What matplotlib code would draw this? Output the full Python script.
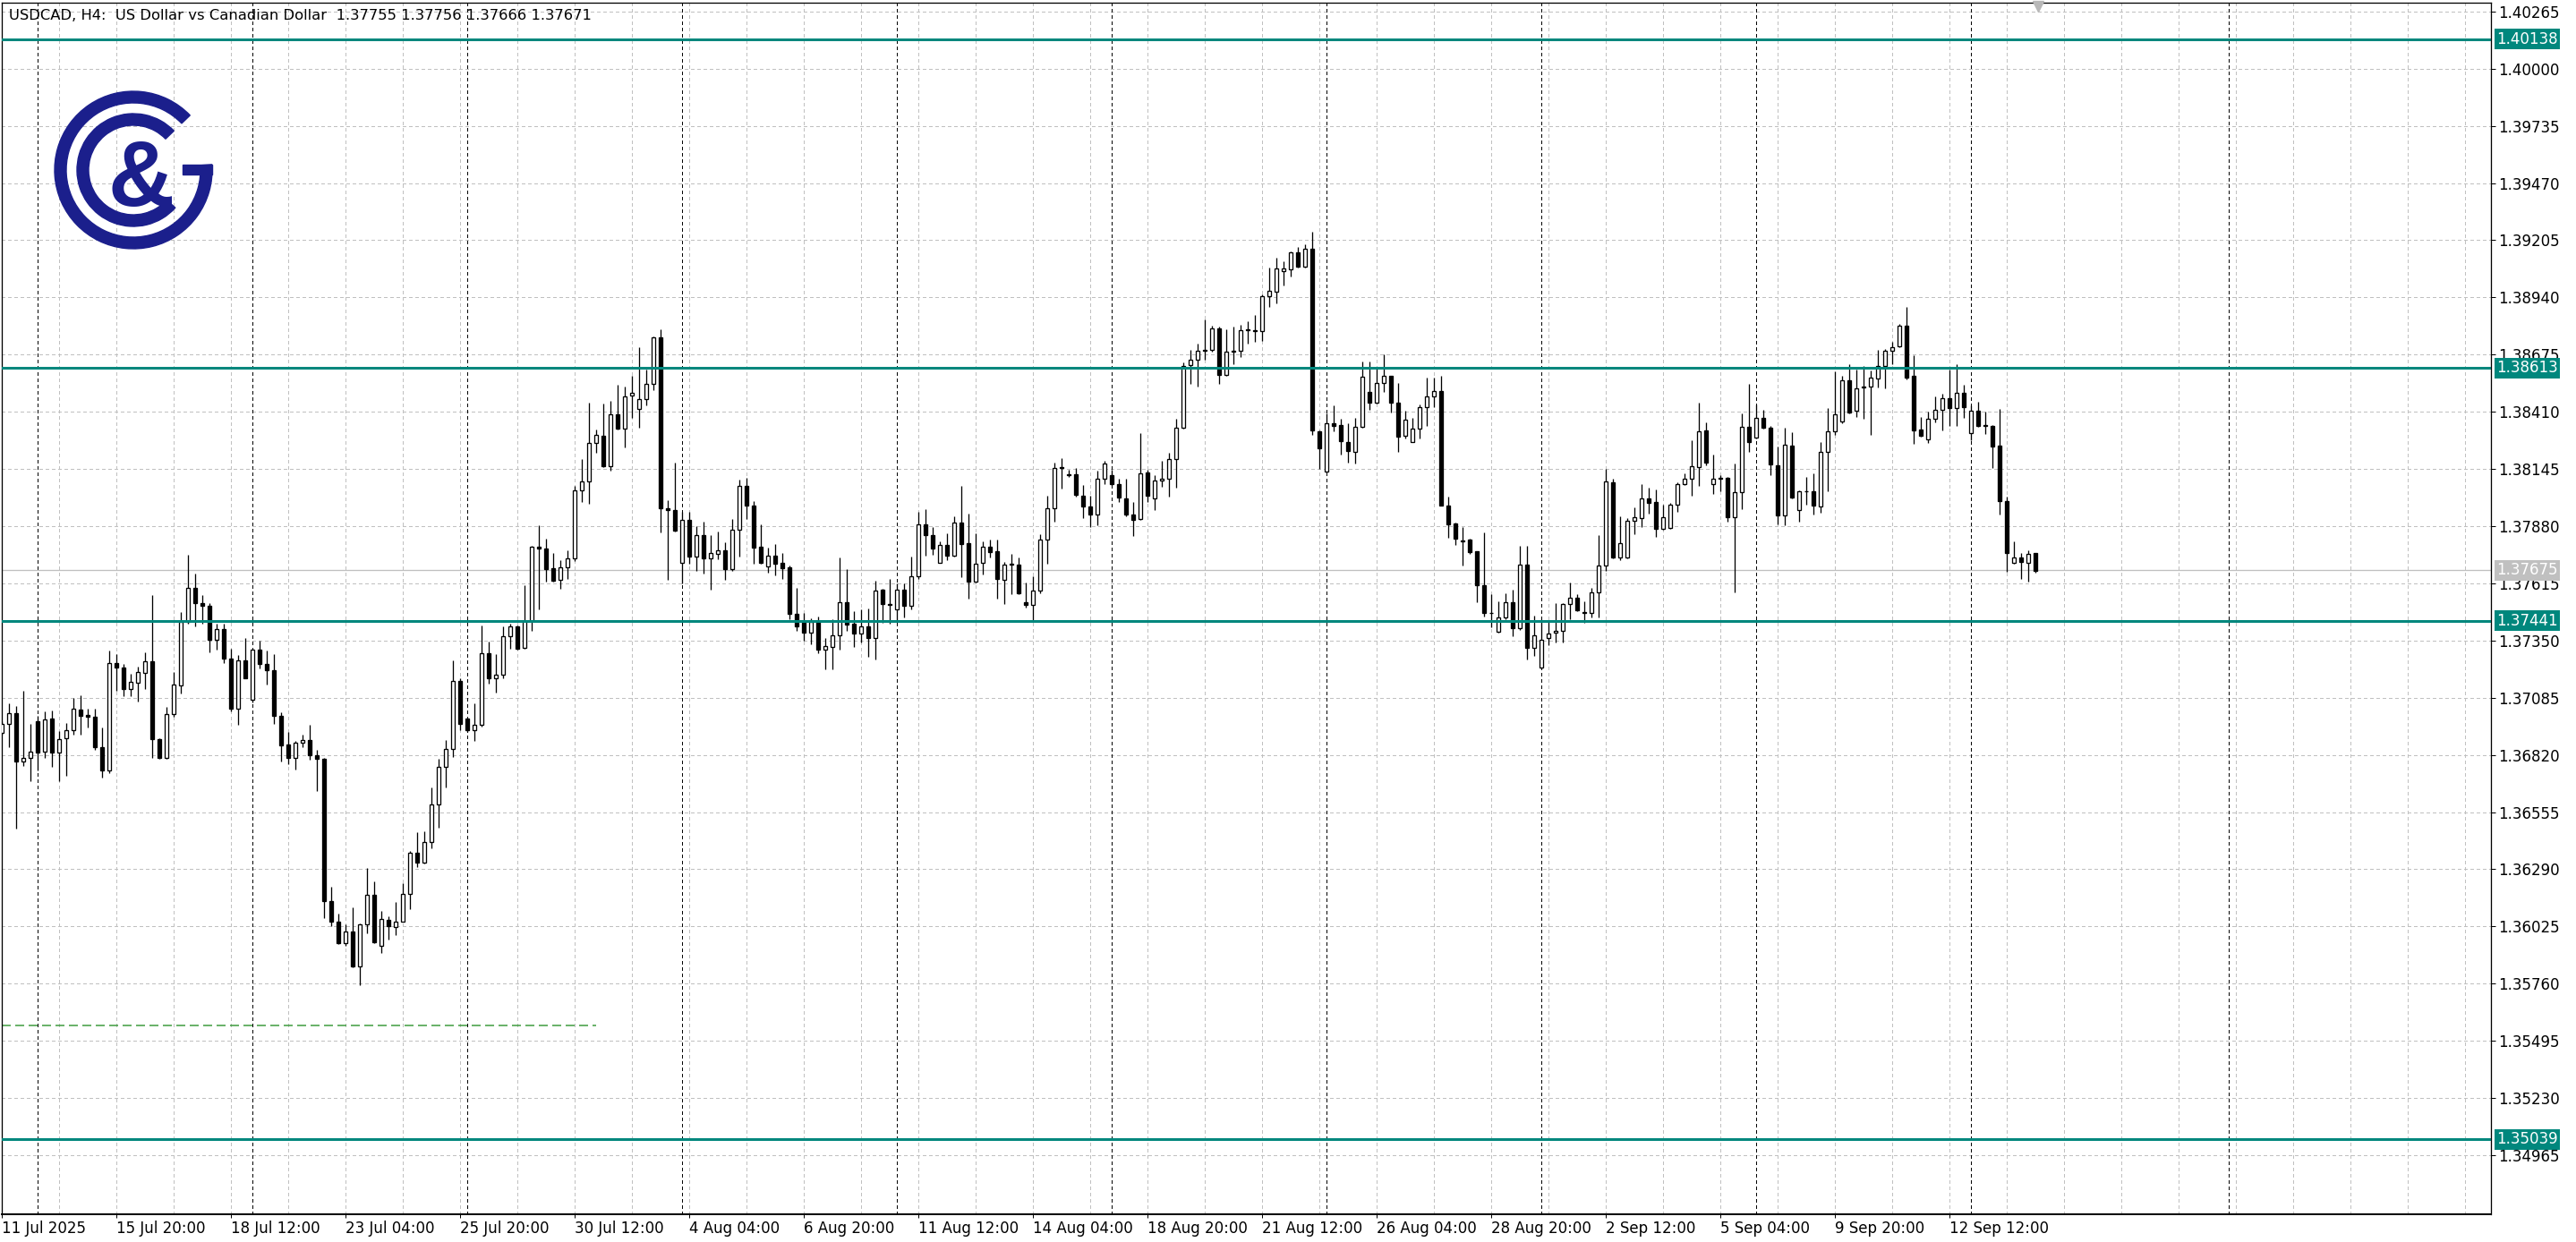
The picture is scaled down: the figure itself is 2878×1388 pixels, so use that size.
import matplotlib
matplotlib.use("Agg")
import matplotlib.pyplot as plt
from matplotlib.patches import Wedge, Rectangle
import numpy as np

plt.rcParams["lines.scale_dashes"] = False
plt.rcParams["font.family"] = ["DejaVu Sans"]

# USDCAD H4 candles, 11 Jul 2025 04:00 .. 16 Sep 2025 12:00
opens = [
    1.36923, 1.36962, 1.37012, 1.36788, 1.36808, 1.36978, 1.36836, 1.36987, 1.36829, 1.36898,
    1.36933, 1.37030, 1.37005, 1.36995, 1.36854, 1.36746, 1.37247, 1.37223, 1.37124, 1.37154,
    1.37198, 1.37252, 1.36894, 1.36804, 1.37009, 1.37140, 1.37435, 1.37592, 1.37524, 1.37509,
    1.37352, 1.37405, 1.37265, 1.37036, 1.37258, 1.37074, 1.37306, 1.37240, 1.37213, 1.36999,
    1.36867, 1.36808, 1.36875, 1.36887, 1.36820, 1.36802, 1.36141, 1.36046, 1.35949, 1.36000,
    1.35838, 1.36035, 1.36170, 1.35936, 1.36057, 1.36024, 1.36048, 1.36176, 1.36365, 1.36319,
    1.36416, 1.36591, 1.36763, 1.36849, 1.37163, 1.36987, 1.36933, 1.36958, 1.37292, 1.37176,
    1.37192, 1.37372, 1.37416, 1.37317, 1.37441, 1.37784, 1.37777, 1.37687, 1.37630, 1.37690,
    1.37730, 1.38045, 1.38087, 1.38266, 1.38298, 1.38156, 1.38398, 1.38331, 1.38485, 1.38425,
    1.38468, 1.38540, 1.38754, 1.37962, 1.37955, 1.37711, 1.37908, 1.37738, 1.37838, 1.37730,
    1.37751, 1.37770, 1.37680, 1.37864, 1.38067, 1.37977, 1.37785, 1.37694, 1.37744, 1.37708,
    1.37691, 1.37474, 1.37439, 1.37387, 1.37436, 1.37309, 1.37321, 1.37375, 1.37528, 1.37426,
    1.37383, 1.37414, 1.37363, 1.37584, 1.37519, 1.37495, 1.37586, 1.37512, 1.37646, 1.37889,
    1.37839, 1.37712, 1.37795, 1.37744, 1.37895, 1.37803, 1.37622, 1.37709, 1.37785, 1.37763,
    1.37633, 1.37705, 1.37702, 1.37528, 1.37516, 1.37582, 1.37819, 1.37964, 1.38154, 1.38121,
    1.38121, 1.38022, 1.37971, 1.37935, 1.38101, 1.38116, 1.38077, 1.38008, 1.37932, 1.37914,
    1.38128, 1.38008, 1.38091, 1.38098, 1.38191, 1.38336, 1.38626, 1.38651, 1.38692, 1.38699,
    1.38796, 1.38579, 1.38688, 1.38691, 1.38792, 1.38789, 1.38785, 1.38945, 1.38966, 1.39063,
    1.39071, 1.39148, 1.39082, 1.39165, 1.38319, 1.38133, 1.38357, 1.38350, 1.38269, 1.38223,
    1.38340, 1.38502, 1.38452, 1.38543, 1.38575, 1.38453, 1.38298, 1.38271, 1.38333, 1.38433,
    1.38480, 1.38505, 1.37977, 1.37893, 1.37814, 1.37817, 1.37762, 1.37606, 1.37478, 1.37390,
    1.37459, 1.37527, 1.37407, 1.37701, 1.37314, 1.37223, 1.37361, 1.37386, 1.37395, 1.37520,
    1.37547, 1.37483, 1.37478, 1.37575, 1.37697, 1.38084, 1.37734, 1.37734, 1.37904, 1.37918,
    1.38008, 1.37991, 1.37867, 1.37872, 1.37980, 1.38074, 1.38100, 1.38153, 1.38323, 1.38074,
    1.38102, 1.38102, 1.37921, 1.38039, 1.38339, 1.38291, 1.38381, 1.38335, 1.38162, 1.37929,
    1.38255, 1.37953, 1.38040, 1.38043, 1.37971, 1.38224, 1.38320, 1.38365, 1.38555, 1.38416,
    1.38523, 1.38527, 1.38566, 1.38621, 1.38694, 1.38714, 1.38807, 1.38575, 1.38329, 1.38282,
    1.38379, 1.38421, 1.38472, 1.38427, 1.38497, 1.38313, 1.38416, 1.38345, 1.38345, 1.38252,
    1.37996, 1.37709, 1.37736, 1.37712, 1.37755,
]
highs = [
    1.36974, 1.37057, 1.37048, 1.37119, 1.36963, 1.37002, 1.37020, 1.37025, 1.36929, 1.36967,
    1.37085, 1.37095, 1.37036, 1.37034, 1.36947, 1.37302, 1.37288, 1.37240, 1.37195, 1.37230,
    1.37295, 1.37562, 1.36898, 1.37041, 1.37205, 1.37481, 1.37747, 1.37661, 1.37559, 1.37523,
    1.37429, 1.37430, 1.37310, 1.37281, 1.37361, 1.37313, 1.37350, 1.37302, 1.37289, 1.37016,
    1.36926, 1.36884, 1.36912, 1.36959, 1.36843, 1.36805, 1.36207, 1.36083, 1.36035, 1.36113,
    1.36038, 1.36294, 1.36235, 1.36096, 1.36074, 1.36140, 1.36227, 1.36373, 1.36460, 1.36467,
    1.36671, 1.36802, 1.36889, 1.37256, 1.37173, 1.36994, 1.37060, 1.37420, 1.37345, 1.37285,
    1.37416, 1.37427, 1.37420, 1.37607, 1.37787, 1.37883, 1.37821, 1.37755, 1.37724, 1.37769,
    1.38067, 1.38192, 1.38454, 1.38328, 1.38447, 1.38461, 1.38536, 1.38526, 1.38577, 1.38709,
    1.38606, 1.38758, 1.38791, 1.38001, 1.38174, 1.37946, 1.37946, 1.37879, 1.37900, 1.37837,
    1.37857, 1.37806, 1.37915, 1.38096, 1.38106, 1.37998, 1.37889, 1.37781, 1.37798, 1.37754,
    1.37698, 1.37592, 1.37477, 1.37452, 1.37463, 1.37363, 1.37450, 1.37736, 1.37680, 1.37488,
    1.37494, 1.37497, 1.37629, 1.37588, 1.37636, 1.37615, 1.37613, 1.37740, 1.37947, 1.37958,
    1.37874, 1.37809, 1.37848, 1.37926, 1.38065, 1.37939, 1.37846, 1.37809, 1.37819, 1.37819,
    1.37716, 1.37751, 1.37736, 1.37617, 1.37646, 1.37841, 1.38019, 1.38175, 1.38196, 1.38142,
    1.38151, 1.38070, 1.38022, 1.38137, 1.38184, 1.38142, 1.38101, 1.38101, 1.37990, 1.38312,
    1.38142, 1.38116, 1.38184, 1.38222, 1.38377, 1.38637, 1.38695, 1.38727, 1.38837, 1.38810,
    1.38803, 1.38792, 1.38803, 1.38814, 1.38831, 1.38858, 1.38955, 1.39077, 1.39125, 1.39107,
    1.39155, 1.39173, 1.39187, 1.39245, 1.38322, 1.38402, 1.38441, 1.38377, 1.38358, 1.38381,
    1.38641, 1.38641, 1.38609, 1.38676, 1.38575, 1.38543, 1.38416, 1.38381, 1.38444, 1.38568,
    1.38567, 1.38577, 1.38015, 1.37897, 1.37876, 1.37824, 1.37762, 1.37849, 1.37565, 1.37531,
    1.37570, 1.37586, 1.37789, 1.37789, 1.37465, 1.37445, 1.37445, 1.37524, 1.37524, 1.37618,
    1.37565, 1.37531, 1.37593, 1.37838, 1.38146, 1.38098, 1.37925, 1.37918, 1.37966, 1.38074,
    1.38060, 1.38049, 1.37980, 1.37987, 1.38084, 1.38125, 1.38277, 1.38453, 1.38363, 1.38211,
    1.38118, 1.38107, 1.38169, 1.38402, 1.38540, 1.38443, 1.38418, 1.38346, 1.38250, 1.38337,
    1.38314, 1.38047, 1.38110, 1.38126, 1.38268, 1.38427, 1.38596, 1.38575, 1.38632, 1.38604,
    1.38621, 1.38600, 1.38696, 1.38700, 1.38734, 1.38817, 1.38897, 1.38673, 1.38386, 1.38411,
    1.38483, 1.38492, 1.38604, 1.38632, 1.38534, 1.38441, 1.38455, 1.38411, 1.38349, 1.38423,
    1.38016, 1.37808, 1.37757, 1.37767, 1.37756,
]
lows = [
    1.36915, 1.36857, 1.36477, 1.36767, 1.36698, 1.36746, 1.36804, 1.36763, 1.36698, 1.36721,
    1.36912, 1.36912, 1.36947, 1.36843, 1.36716, 1.36737, 1.37119, 1.37092, 1.37092, 1.37067,
    1.37126, 1.36804, 1.36801, 1.36801, 1.36998, 1.37103, 1.37429, 1.37417, 1.37429, 1.37296,
    1.37309, 1.37247, 1.37023, 1.36960, 1.37174, 1.37064, 1.37220, 1.37147, 1.36965, 1.36790,
    1.36777, 1.36753, 1.36854, 1.36799, 1.36654, 1.36062, 1.36028, 1.35945, 1.35934, 1.35834,
    1.35754, 1.35993, 1.35948, 1.35900, 1.35965, 1.35984, 1.36045, 1.36104, 1.36300, 1.36315,
    1.36387, 1.36482, 1.36671, 1.36809, 1.36933, 1.36926, 1.36886, 1.36950, 1.37151, 1.37108,
    1.37177, 1.37310, 1.37307, 1.37313, 1.37393, 1.37496, 1.37621, 1.37621, 1.37589, 1.37635,
    1.37718, 1.37994, 1.37983, 1.38219, 1.38153, 1.38136, 1.38328, 1.38243, 1.38381, 1.38335,
    1.38440, 1.38510, 1.37853, 1.37630, 1.37856, 1.37614, 1.37704, 1.37673, 1.37662, 1.37584,
    1.37726, 1.37632, 1.37673, 1.37737, 1.37913, 1.37705, 1.37705, 1.37664, 1.37650, 1.37636,
    1.37450, 1.37394, 1.37350, 1.37332, 1.37291, 1.37217, 1.37217, 1.37307, 1.37394, 1.37321,
    1.37342, 1.37273, 1.37263, 1.37433, 1.37429, 1.37436, 1.37455, 1.37495, 1.37636, 1.37743,
    1.37747, 1.37709, 1.37722, 1.37740, 1.37643, 1.37544, 1.37620, 1.37657, 1.37736, 1.37544,
    1.37519, 1.37564, 1.37563, 1.37502, 1.37441, 1.37570, 1.37705, 1.37899, 1.38053, 1.38109,
    1.38018, 1.37916, 1.37877, 1.37884, 1.38077, 1.38070, 1.37990, 1.37925, 1.37835, 1.37911,
    1.37994, 1.37953, 1.38064, 1.38015, 1.38057, 1.38330, 1.38538, 1.38529, 1.38651, 1.38690,
    1.38538, 1.38575, 1.38630, 1.38662, 1.38727, 1.38734, 1.38737, 1.38897, 1.38911, 1.38994,
    1.39038, 1.39079, 1.39079, 1.38303, 1.38144, 1.38130, 1.38319, 1.38211, 1.38174, 1.38170,
    1.38336, 1.38419, 1.38449, 1.38503, 1.38405, 1.38225, 1.38285, 1.38268, 1.38285, 1.38344,
    1.38432, 1.37976, 1.37828, 1.37793, 1.37697, 1.37752, 1.37527, 1.37462, 1.37413, 1.37387,
    1.37448, 1.37372, 1.37400, 1.37264, 1.37278, 1.37217, 1.37328, 1.37340, 1.37340, 1.37448,
    1.37487, 1.37431, 1.37459, 1.37455, 1.37672, 1.37731, 1.37722, 1.37731, 1.37842, 1.37876,
    1.37939, 1.37832, 1.37863, 1.37869, 1.37945, 1.38070, 1.38021, 1.38066, 1.38160, 1.38031,
    1.38042, 1.37901, 1.37572, 1.37959, 1.38226, 1.38288, 1.38332, 1.38118, 1.37887, 1.37883,
    1.38010, 1.37902, 1.37978, 1.37934, 1.37944, 1.38043, 1.38303, 1.38356, 1.38404, 1.38386,
    1.38376, 1.38303, 1.38521, 1.38517, 1.38632, 1.38711, 1.38559, 1.38262, 1.38293, 1.38266,
    1.38362, 1.38324, 1.38345, 1.38345, 1.38382, 1.38278, 1.38342, 1.38307, 1.38151, 1.37934,
    1.37667, 1.37706, 1.37636, 1.37623, 1.37666,
]
closes = [
    1.36965, 1.37012, 1.36788, 1.36808, 1.36837, 1.36832, 1.36984, 1.36829, 1.36894, 1.36933,
    1.37032, 1.37002, 1.36995, 1.36857, 1.36746, 1.37247, 1.37223, 1.37126, 1.37157, 1.37202,
    1.37252, 1.36894, 1.36804, 1.37009, 1.37144, 1.37435, 1.37592, 1.37524, 1.37513, 1.37354,
    1.37405, 1.37265, 1.37036, 1.37258, 1.37177, 1.37306, 1.37240, 1.37213, 1.36999, 1.36862,
    1.36808, 1.36875, 1.36887, 1.36820, 1.36802, 1.36141, 1.36048, 1.35949, 1.36000, 1.35838,
    1.36035, 1.36170, 1.35951, 1.36060, 1.36028, 1.36048, 1.36176, 1.36365, 1.36319, 1.36416,
    1.36591, 1.36763, 1.36849, 1.37163, 1.36962, 1.36933, 1.36958, 1.37292, 1.37176, 1.37192,
    1.37372, 1.37416, 1.37313, 1.37441, 1.37784, 1.37777, 1.37683, 1.37625, 1.37690, 1.37730,
    1.38045, 1.38087, 1.38266, 1.38304, 1.38156, 1.38398, 1.38331, 1.38480, 1.38498, 1.38468,
    1.38540, 1.38754, 1.37962, 1.37955, 1.37858, 1.37908, 1.37738, 1.37838, 1.37731, 1.37754,
    1.37770, 1.37680, 1.37864, 1.38067, 1.37975, 1.37780, 1.37712, 1.37744, 1.37705, 1.37685,
    1.37473, 1.37415, 1.37387, 1.37436, 1.37307, 1.37325, 1.37375, 1.37528, 1.37425, 1.37383,
    1.37414, 1.37363, 1.37581, 1.37519, 1.37516, 1.37586, 1.37512, 1.37646, 1.37889, 1.37839,
    1.37777, 1.37795, 1.37744, 1.37895, 1.37798, 1.37622, 1.37707, 1.37785, 1.37761, 1.37636,
    1.37702, 1.37702, 1.37570, 1.37516, 1.37582, 1.37819, 1.37964, 1.38150, 1.38150, 1.38117,
    1.38026, 1.37971, 1.37932, 1.38101, 1.38170, 1.38075, 1.38012, 1.37932, 1.37911, 1.38123,
    1.38022, 1.38091, 1.38098, 1.38191, 1.38336, 1.38623, 1.38651, 1.38692, 1.38696, 1.38796,
    1.38579, 1.38688, 1.38691, 1.38789, 1.38789, 1.38785, 1.38945, 1.38971, 1.39075, 1.39075,
    1.39148, 1.39082, 1.39165, 1.38322, 1.38240, 1.38357, 1.38344, 1.38274, 1.38227, 1.38340,
    1.38572, 1.38452, 1.38543, 1.38575, 1.38453, 1.38294, 1.38374, 1.38333, 1.38430, 1.38481,
    1.38505, 1.37977, 1.37887, 1.37821, 1.37811, 1.37758, 1.37606, 1.37476, 1.37476, 1.37459,
    1.37527, 1.37407, 1.37701, 1.37314, 1.37376, 1.37355, 1.37382, 1.37393, 1.37520, 1.37547,
    1.37489, 1.37478, 1.37572, 1.37697, 1.38086, 1.37734, 1.37800, 1.37904, 1.37921, 1.38008,
    1.37987, 1.37867, 1.37921, 1.37980, 1.38074, 1.38100, 1.38156, 1.38319, 1.38174, 1.38100,
    1.38098, 1.37921, 1.38039, 1.38339, 1.38270, 1.38381, 1.38337, 1.38167, 1.37929, 1.38256,
    1.38013, 1.38040, 1.38043, 1.37976, 1.38224, 1.38320, 1.38400, 1.38556, 1.38407, 1.38520,
    1.38527, 1.38570, 1.38624, 1.38694, 1.38711, 1.38807, 1.38568, 1.38324, 1.38299, 1.38379,
    1.38421, 1.38473, 1.38427, 1.38497, 1.38430, 1.38416, 1.38345, 1.38349, 1.38248, 1.37996,
    1.37757, 1.37736, 1.37716, 1.37753, 1.37671,
]

time_labels = ["11 Jul 2025", "15 Jul 20:00", "18 Jul 12:00", "23 Jul 04:00",
               "25 Jul 20:00", "30 Jul 12:00", "4 Aug 04:00", "6 Aug 20:00",
               "11 Aug 12:00", "14 Aug 04:00", "18 Aug 20:00", "21 Aug 12:00",
               "26 Aug 04:00", "28 Aug 20:00", "2 Sep 12:00", "5 Sep 04:00",
               "9 Sep 20:00", "12 Sep 12:00"]
price_ticks = [1.40265, 1.40000, 1.39735, 1.39470, 1.39205, 1.38940, 1.38675,
               1.38410, 1.38145, 1.37880, 1.37615, 1.37350, 1.37085, 1.36820,
               1.36555, 1.36290, 1.36025, 1.35760, 1.35495, 1.35230, 1.34965]
level_prices = [1.40138, 1.38613, 1.37441, 1.35039]
bid_price = 1.37675
green_price = 1.35568
green_end = 83
week_starts = [5, 35, 65, 95, 125, 155, 185, 215, 245, 275, 311]
title = "USDCAD, H4:  US Dollar vs Canadian Dollar  1.37755 1.37756 1.37666 1.37671"

W, H, DPI = 2878, 1388, 100
PT = 72 / DPI          # one pixel expressed in points
TEAL = "#00877D"
GRID = "#C0C0C0"
NAVY = "#1B1F8C"

fig = plt.figure(figsize=(W / DPI, H / DPI), dpi=DPI)
left_px, right_px, top_px, bottom_px = 1.7, 2783, 3, 1357
ax = fig.add_axes([left_px / W, 1 - bottom_px / H,
                   (right_px - left_px) / W, (bottom_px - top_px) / H])
ax.set_xlim(-0.04, 347.6)
ax.set_ylim(1.34691, 1.40306)

# grid, week separators
for gx in range(0, 348, 8):
    ax.axvline(gx, color=GRID, lw=PT, dashes=(3 * PT, 3 * PT), antialiased=False, zorder=0.5)
for p in price_ticks:
    ax.axhline(p, color=GRID, lw=PT, dashes=(3 * PT, 3 * PT), antialiased=False, zorder=0.5)
for s in week_starts:
    ax.axvline(s, color="black", lw=PT, dashes=(4 * PT, 3 * PT), antialiased=False, zorder=0.6)

ax.axhline(bid_price, color=GRID, lw=1.3 * PT, zorder=1)
ax.plot([-0.04, green_end], [green_price, green_price], color="#3A9A3A",
        lw=1.5 * PT, dashes=(10 * PT, 5 * PT), zorder=2)

# candles
o = np.array(opens)
h = np.array(highs)
l = np.array(lows)
c = np.array(closes)
x = np.arange(len(c))
up = c >= o
ax.vlines(x, l, h, color="black", lw=1.3 * PT, zorder=2.5)
bottom = np.minimum(o, c)
height = np.maximum(np.abs(c - o), 0.000015)
ax.bar(x[up], height[up], bottom=bottom[up], width=0.55, color="white",
       edgecolor="black", linewidth=1.3 * PT, zorder=3)
ax.bar(x[~up], height[~up], bottom=bottom[~up], width=0.55, color="black",
       edgecolor="black", linewidth=1.3 * PT, zorder=3)

for p in level_prices:
    ax.axhline(p, color=TEAL, lw=3 * PT, zorder=4)

# axes, ticks
for name, sp in ax.spines.items():
    sp.set_color("black")
    sp.set_linewidth((2.0 if name == "bottom" else 1.3) * PT)
ax.yaxis.tick_right()
ax.set_yticks(price_ticks)
ax.set_yticklabels([f"{p:.5f}" for p in price_ticks])
ax.tick_params(axis="y", length=5 * PT, width=PT, pad=3 * PT, labelsize=12)
ax.set_xticks(np.arange(len(time_labels)) * 16)
ax.set_xticklabels(time_labels, ha="left")
ax.tick_params(axis="x", length=4 * PT, width=PT, pad=3 * PT, labelsize=12)

box_style = "square,pad=0.15"
for p in level_prices:
    ax.annotate(f"{p:.5f}", xy=(1, p), xycoords=ax.get_yaxis_transform(),
                xytext=(6 * PT, 0), textcoords="offset points", ha="left",
                va="center", color="white", fontsize=12, zorder=10,
                annotation_clip=False,
                bbox=dict(boxstyle=box_style, fc=TEAL, ec="none"))
ax.annotate(f"{bid_price:.5f}", xy=(1, bid_price), xycoords=ax.get_yaxis_transform(),
            xytext=(6 * PT, 0), textcoords="offset points", ha="left",
            va="center", color="white", fontsize=12, zorder=10,
            annotation_clip=False,
            bbox=dict(boxstyle=box_style, fc=GRID, ec="none"))

ax.plot([284.3], [1.40288], marker="v", color="#B8B8B8", ms=8, clip_on=False, zorder=5)

fig.text(10 / W, 1 - 17 / H, title, fontsize=11.8, ha="left", va="center")

# logo
lax = fig.add_axes([40 / W, 1 - 300 / H, 220 / W, 220 / H])
lax.set_xlim(40, 260)
lax.set_ylim(H - 300, H - 80)
lax.axis("off")
cx, cy = 149, H - 190
lax.add_patch(Wedge((cx, cy), 88, 44, 364, width=13, color=NAVY))
lax.add_patch(Rectangle((204, H - 195), 33, 11, color=NAVY))
lax.add_patch(Wedge((cx, cy), 63, 44, 318, width=13, color=NAVY))
lax.text(158, H - 230, "&", fontsize=74, fontweight="bold", family="Liberation Sans",
         color=NAVY, ha="center", va="baseline")

fig.savefig("out.png", dpi=DPI, facecolor="white")
